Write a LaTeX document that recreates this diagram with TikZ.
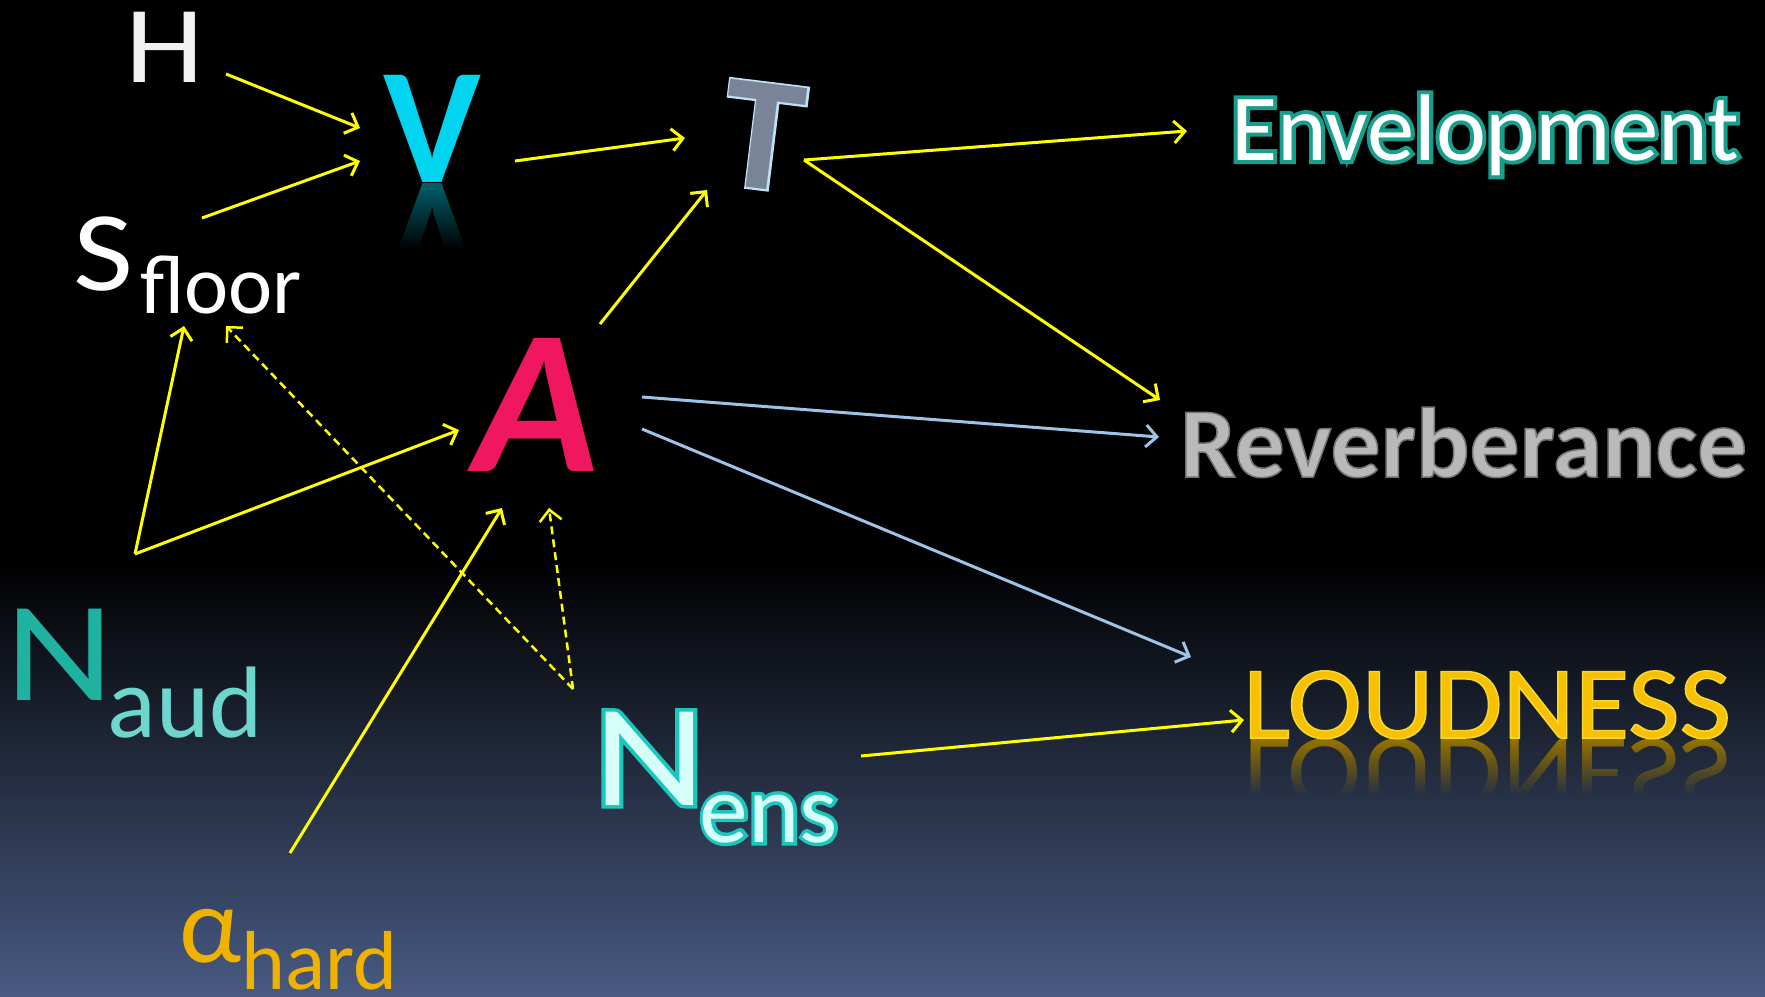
\documentclass[tikz,border=0pt]{standalone}
\usepackage{fontspec}
\setmainfont{Carlito}
\usetikzlibrary{arrows.meta,fadings}
\definecolor{arrY}{RGB}{255,255,0}
\definecolor{arrB}{RGB}{157,195,230}
\definecolor{bgBot}{RGB}{72,90,130}
\definecolor{cV}{RGB}{0,212,238}
\definecolor{cT}{RGB}{122,132,153}
\definecolor{cTg}{RGB}{190,225,245}
\definecolor{cA}{RGB}{240,22,95}
\definecolor{cEnvg}{RGB}{23,158,140}
\definecolor{cRev}{RGB}{185,185,185}
\definecolor{cLoud}{RGB}{248,192,0}
\definecolor{cNaud}{RGB}{32,178,160}
\definecolor{cNaudS}{RGB}{110,215,205}
\definecolor{cNens}{RGB}{215,255,250}
\definecolor{cNensg}{RGB}{26,199,189}
\definecolor{cAlpha}{RGB}{240,178,0}
\newcommand{\fs}[1]{\fontsize{#1}{#1}\selectfont}
% outlined text: line width, stroke colour (r g b in 0..1)
\newcommand{\outl}[2]{\special{pdf:literal direct 2 Tr #1 w #2 RG}}
% halo text: fill and stroke (colour from the node's text colour)
\newcommand{\halo}[1]{\special{pdf:literal direct 2 Tr #1 w}}
\begin{document}
\begin{tikzpicture}[x=1bp,y=-1bp,
  lbl/.style={inner sep=0pt, outer sep=0pt},
  yarr/.style={draw=arrY, line width=3bp, -{Straight Barb[length=11bp,width=22bp]}},
  barr/.style={draw=arrB, line width=3bp, -{Straight Barb[length=11bp,width=22bp]}},
  darr/.style={draw=arrY, line width=2.5bp, dash pattern=on 8bp off 5bp, -{Straight Barb[length=11bp,width=22bp]}}]
\fill[black] (0,0) rectangle (1765,996);
\shade[top color=black, bottom color=bgBot] (0,560) rectangle (1765,996);
\useasboundingbox (0,0) rectangle (1765,996);

% reflections
\begin{scope}
  \path[scope fading=south] (370,184) rectangle (495,250);
  \node[lbl, anchor=base, text=cV!45!black] (Vr) at (432,184) {\fs{166}\bfseries\scalebox{1}[-1]{V}};
\end{scope}
\begin{scope}
  \path[scope fading=south] (1240,740) rectangle (1735,795);
  \node[lbl, anchor=base, text=cLoud!60!black] (Lr) at (1487,740) {\fs{104}\scalebox{1.08}[-1]{LOUDNESS}};
\end{scope}

% halos behind glowing labels
\node[lbl, rotate=-7, text=cTg] (Tg) at (763,136) {\fs{163}\bfseries\halo{4}T};
\node[lbl, anchor=base west, text=cEnvg] (Envg) at (1231,160) {\fs{95}\halo{8}Envelopment};
\node[lbl, anchor=base west, text=cNensg] (Nensg) at (593,805) {\fs{146}\halo{7}\scalebox{1.2}[1]{\halo{7}N}\hspace{-6bp}\raisebox{-37bp}{\fs{98}\halo{7}ens}};

% labels
\node[lbl, anchor=base, text=white!95!black] (H) at (165,82) {\fs{110}\scalebox{1.15}[1]{H}};
\node[lbl, anchor=base, text=cV] (V) at (432,182) {\fs{166}\bfseries V};
\node[lbl, rotate=-7, text=cT] (T) at (763,136) {\fs{163}\bfseries T};
\node[lbl, text=cA] (A) at (537,405) {\fs{206}\bfseries\itshape A};
\node[lbl, anchor=base west, text=white] (Env) at (1231,160) {\fs{95}Envelopment};
\node[lbl, anchor=base west, text=cRev] (Rev) at (1180,477) {\fs{100}\bfseries\outl{1.5}{0.45 0.45 0.45}Reverberance};
\node[lbl, anchor=base, text=cLoud] (Loud) at (1487,738) {\fs{104}\outl{1.5}{0.95 0.85 0.2}\scalebox{1.08}[1]{LOUDNESS}};
\node[lbl, anchor=base west, text=white] (S) at (73,290) {\fs{114}\scalebox{1.15}[1]{S}\hspace{7bp}\raisebox{-23bp}{\fs{84}floor}};
\node[lbl, anchor=base west, text=cNaud] (Naud) at (5,700) {\fs{143}\scalebox{1.18}[1]{N}\hspace{-6bp}\raisebox{-37bp}{\fs{102}\color{cNaudS}aud}};
\node[lbl, anchor=base west, text=cNens] (Nens) at (593,805) {\fs{146}\scalebox{1.2}[1]{N}\hspace{-6bp}\raisebox{-37bp}{\fs{98}ens}};
\node[lbl, anchor=base west, text=cAlpha] (alpha) at (179,962) {\fs{110}α\raisebox{-27bp}{\fs{84}hard}};

% arrow end points
\coordinate (hv1) at (226,74);  \coordinate (hv2) at (360,128);
\coordinate (sv1) at (202,218); \coordinate (sv2) at (360,161);
\coordinate (vt1) at (515,161); \coordinate (vt2) at (685,138);
\coordinate (at1) at (600,324); \coordinate (at2) at (707,190);
\coordinate (te1) at (804,160); \coordinate (te2) at (1187,131);
\coordinate (tr2) at (1160,400);
\coordinate (ar1) at (642,397); \coordinate (ar2) at (1159,437);
\coordinate (al1) at (642,429); \coordinate (al2) at (1191,657);
\coordinate (na1) at (135,554); \coordinate (ns2) at (184,326); \coordinate (naa2) at (459,430);
\coordinate (aa1) at (290,853); \coordinate (aa2) at (502,508);
\coordinate (ne1) at (573,689); \coordinate (nes2) at (226,326); \coordinate (nea2) at (549,508);
\coordinate (nl1) at (861,756); \coordinate (nl2) at (1244,720);

\draw[yarr] (hv1) -- (hv2);
\draw[yarr] (sv1) -- (sv2);
\draw[yarr] (vt1) -- (vt2);
\draw[yarr] (at1) -- (at2);
\draw[yarr] (te1) -- (te2);
\draw[yarr] (te1) -- (tr2);
\draw[barr] (ar1) -- (ar2);
\draw[barr] (al1) -- (al2);
\draw[yarr] (na1) -- (ns2);
\draw[yarr] (na1) -- (naa2);
\draw[yarr] (aa1) -- (aa2);
\draw[darr] (ne1) -- (nes2);
\draw[darr] (ne1) -- (nea2);
\draw[yarr] (nl1) -- (nl2);
\end{tikzpicture}
\end{document}
